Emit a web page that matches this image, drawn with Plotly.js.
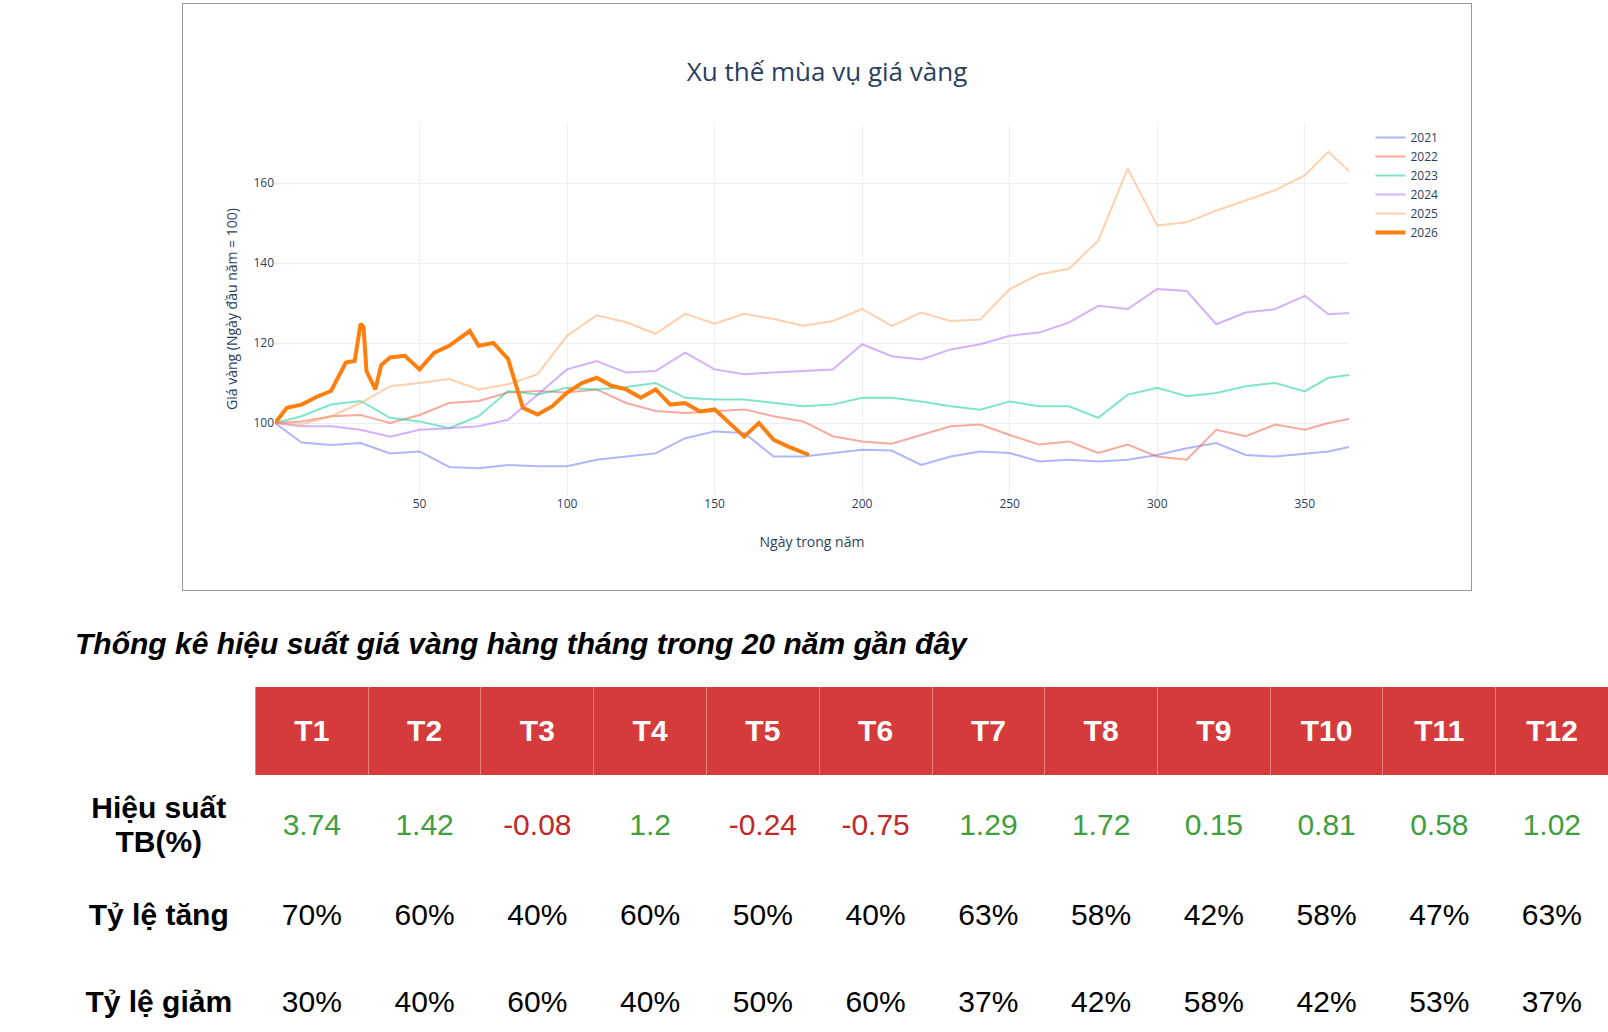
<!DOCTYPE html>
<html>
<head>
<meta charset="utf-8">
<script src="https://cdn.plot.ly/plotly-3.0.1.min.js"></script>
<style>
  body { margin: 0; background: #fff; font-family: "Liberation Sans", Arial, sans-serif; }
  #chart { position: absolute; left: 182px; top: 3px; width: 1288px; height: 586px; border: 1px solid #999; }
  #ttl { position: absolute; left: 75px; top: 627px; font-size: 30px; font-weight: bold; font-style: italic; }
  table { position: absolute; left: 62px; top: 687px; border-collapse: collapse; }
  td { width: 110px; text-align: center; font-size: 30px; padding: 0; }
  td.lab { width: 194px; font-weight: bold; }
  th { background: #d63b3b; color: #fff; font-size: 30px; height: 86px; width: 110px; border-left: 1px solid #e8807e; }
  th.blank { background: #fff; border: none; }
  .pos { color: #3f9e3f; }
  .neg { color: #c0282a; }
</style>
</head>
<body>
<div id="chart"></div>
<div id="ttl">Thống kê hiệu suất giá vàng hàng tháng trong 20 năm gần đây</div>
<table id="tbl"></table>
<script>
// dữ liệu biểu đồ
const years = ['2021', '2022', '2023', '2024', '2025', '2026'];
const colors = ['#636efa', '#EF553B', '#00cc96', '#ab63fa', '#FFA15A', '#ff7f0e'];

const daysFull = [1, 10, 20, 30, 40, 50, 60, 70, 80, 90, 100, 110, 120, 130, 140, 150, 160, 170, 180,
  190, 200, 210, 220, 230, 240, 250, 260, 270, 280, 290, 300, 310, 320, 330, 340, 350, 358, 365];

const v2021 = [100, 95.1, 94.5, 95, 92.4, 92.9, 89, 88.7, 89.5, 89.2, 89.2, 90.8, 91.6, 92.4, 96.2, 97.9, 97.5, 91.6, 91.6,
  92.5, 93.3, 93.1, 89.5, 91.6, 92.9, 92.5, 90.4, 90.8, 90.4, 90.8, 92, 93.7, 95, 92, 91.6, 92.3, 92.9, 94];
const v2022 = [100, 100.4, 101.7, 102, 100, 102, 105, 105.5, 107.6, 108, 107.6, 108.4, 105, 103, 102.5, 103, 103.4, 101.7, 100.4,
  96.7, 95.4, 94.8, 97, 99.2, 99.6, 97, 94.6, 95.4, 92.5, 94.6, 91.6, 90.8, 98.3, 96.7, 99.6, 98.3, 100, 101];
const v2023 = [100, 101.7, 104.6, 105.5, 101.3, 100.4, 98.7, 101.7, 108, 107.1, 108.8, 108.4, 109, 110, 106.3, 105.9, 105.9, 105, 104.2,
  104.6, 106.3, 106.3, 105.4, 104.2, 103.3, 105.4, 104.2, 104.2, 101.3, 107.1, 108.8, 106.7, 107.5, 109.2, 110, 107.9, 111.3, 112];
const v2024 = [100, 99.2, 99.2, 98.3, 96.6, 98.3, 98.7, 99.2, 100.8, 107.1, 113.4, 115.5, 112.6, 113, 117.6, 113.4, 112.2, 112.6, 113,
  113.4, 119.7, 116.7, 115.9, 118.4, 119.7, 121.8, 122.6, 125.1, 129.3, 128.5, 133.5, 133, 124.7, 127.6, 128.5, 131.8, 127.2, 127.5];
const v2025 = [100, 99.6, 101.7, 105, 109.2, 110, 111, 108.4, 109.7, 112.2, 121.8, 126.9, 125.2, 122.3, 127.3, 124.8, 127.3, 126, 124.3,
  125.5, 128.5, 124.3, 127.6, 125.5, 125.9, 133.5, 137.2, 138.5, 145.6, 163.6, 149.4, 150.2, 153.1, 155.6, 158.2, 161.9, 167.8, 163];

const days2026 = [1, 5, 10, 15, 20, 25, 28, 30, 31, 32, 35, 37, 40, 45, 50, 55, 60, 65, 67, 70, 75, 80, 85, 90, 95,
  100, 105, 110, 115, 120, 125, 130, 135, 140, 145, 150, 155, 160, 165, 170, 175, 180, 182];
const v2026 = [100, 103.8, 104.6, 106.5, 108, 115.1, 115.5, 124.8, 124, 113, 108.4, 114.5, 116.4, 116.8, 113.4, 117.6, 119.3, 121.8, 123, 119.3, 120, 116,
  103.8, 102.1, 104.2, 107.6, 110, 111.3, 109.3, 108.4, 106.3, 108.4, 104.6, 105, 102.9, 103.4, 100, 96.6, 100, 95.8, 94.1, 92.6, 92];

// bảng thống kê
const months = ['T1', 'T2', 'T3', 'T4', 'T5', 'T6', 'T7', 'T8', 'T9', 'T10', 'T11', 'T12'];
const avgPerf = ['3.74', '1.42', '-0.08', '1.2', '-0.24', '-0.75', '1.29', '1.72', '0.15', '0.81', '0.58', '1.02'];
const upRate = ['70%', '60%', '40%', '60%', '50%', '40%', '63%', '58%', '42%', '58%', '47%', '63%'];
const downRate = ['30%', '40%', '60%', '40%', '50%', '60%', '37%', '42%', '58%', '42%', '53%', '37%'];

const series = [v2021, v2022, v2023, v2024, v2025];
const traces = series.map((v, i) => ({
    x: daysFull, y: v, name: years[i], type: 'scatter', mode: 'lines',
    line: { color: colors[i], width: 2 }, opacity: 0.5
}));
traces.push({
    x: days2026, y: v2026, name: years[5], type: 'scatter', mode: 'lines',
    line: { color: colors[5], width: 4 }
});

const layout = {
    width: 1288, height: 586,
    margin: { l: 92, r: 122, t: 119, b: 95 },
    paper_bgcolor: '#fff', plot_bgcolor: '#fff',
    font: { family: 'Open Sans, sans-serif', color: '#2a3f5f', size: 12 },
    title: { text: 'Xu thế mùa vụ giá vàng', x: 0.5, xanchor: 'center', y: 0.9, font: { size: 26 } },
    xaxis: {
        title: { text: 'Ngày trong năm', font: { size: 14 } },
        range: [1, 365], tickvals: [50, 100, 150, 200, 250, 300, 350],
        gridcolor: '#EBF0F8', zeroline: false, ticks: ''
    },
    yaxis: {
        title: { text: 'Giá vàng (Ngày đầu năm = 100)', font: { size: 14 } },
        range: [82, 175], tickvals: [100, 120, 140, 160],
        gridcolor: '#EBF0F8', zeroline: false
    },
    legend: { x: 1.02, y: 1, font: { size: 12 } },
    showlegend: true
};

Plotly.newPlot('chart', traces, layout, { displayModeBar: false, staticPlot: true });

// dựng bảng
const tbl = document.getElementById('tbl');
let html = '<tr><th class="blank"></th>' + months.map(m => '<th>' + m + '</th>').join('') + '</tr>';
html += '<tr style="height:99px"><td class="lab">Hiệu suất<br>TB(%)</td>' +
    avgPerf.map(v => '<td class="' + (parseFloat(v) < 0 ? 'neg' : 'pos') + '">' + v + '</td>').join('') + '</tr>';
html += '<tr style="height:81px"><td class="lab">Tỷ lệ tăng</td>' + upRate.map(v => '<td>' + v + '</td>').join('') + '</tr>';
html += '<tr style="height:93px"><td class="lab">Tỷ lệ giảm</td>' + downRate.map(v => '<td>' + v + '</td>').join('') + '</tr>';
tbl.innerHTML = html;
</script>
</body>
</html>
